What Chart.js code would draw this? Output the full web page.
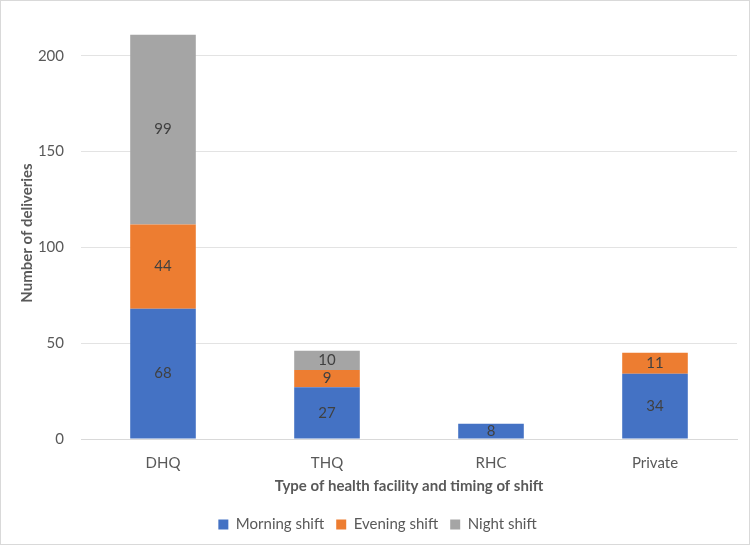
<!DOCTYPE html>
<html>
<head>
<meta charset="utf-8">
<script src="https://cdn.jsdelivr.net/npm/chart.js@4.4.1/dist/chart.umd.min.js"></script>
<style>
  html, body { margin: 0; padding: 0; background: #fff; }
  #wrap { position: relative; width: 748px; height: 543px; border: 1px solid #d9d9d9; }
</style>
</head>
<body>
<div id="wrap"><canvas id="chart"></canvas></div>
<script>
// data
const categories = ["DHQ", "THQ", "RHC", "Private"];
const morning = [68, 27, 8, 34];
const evening = [44, 9, 0, 11];
const night   = [99, 10, 0, 0];
const yTicks  = [0, 50, 100, 150, 200];

const FONT = "Lato, 'Open Sans', sans-serif";
const TXT = "#595959";

// labels centred in each segment, zeros skipped
const segLabels = {
  id: "segLabels",
  afterDatasetsDraw(chart) {
    const ctx = chart.ctx;
    ctx.save();
    ctx.font = "15px " + FONT;
    ctx.fillStyle = "#404040";
    ctx.textAlign = "center";
    ctx.textBaseline = "middle";
    chart.data.datasets.forEach((ds, i) => {
      chart.getDatasetMeta(i).data.forEach((bar, j) => {
        const v = ds.data[j];
        if (!v) return;
        const { x, y, base } = bar.getProps(["x", "y", "base"], true);
        ctx.fillText(String(v), x, (y + base) / 2);
      });
    });
    ctx.restore();
  }
};

new Chart(document.getElementById("chart"), {
  type: "bar",
  data: {
    labels: categories,
    datasets: [
      { label: "Morning shift", data: morning, backgroundColor: "#4472c4" },
      { label: "Evening shift", data: evening, backgroundColor: "#ed7d31" },
      { label: "Night shift",   data: night,   backgroundColor: "#a5a5a5" },
    ]
  },
  options: {
    responsive: true,
    maintainAspectRatio: false,
    animation: false,
    datasets: { bar: { categoryPercentage: 1, barPercentage: 0.4 } },
    layout: { padding: { left: 17, right: 12, top: 17, bottom: 2 } },
    plugins: {
      tooltip: { enabled: false },
      legend: {
        position: "bottom",
        labels: {
          color: TXT, boxWidth: 10, boxHeight: 10, padding: 12,
          font: { family: FONT, size: 15 }
        }
      }
    },
    scales: {
      x: {
        stacked: true,
        afterFit: (axis) => { axis.height = 66; },
        grid: { display: false, drawTicks: false },
        border: { color: "#d9d9d9" },
        ticks: { color: TXT, font: { family: FONT, size: 15, lineHeight: 1 }, padding: 17 },
        title: {
          display: true, text: "Type of health facility and timing of shift",
          color: TXT, font: { family: FONT, size: 15, weight: "bold" }, padding: { top: 2, bottom: 10 }
        }
      },
      y: {
        stacked: true,
        min: 0, max: 215,
        afterBuildTicks: (axis) => { axis.ticks = yTicks.map(v => ({ value: v })); },
        afterFit: (axis) => { axis.width = 63; },
        grid: { color: "#e3e3e3", drawTicks: false },
        border: { display: false },
        ticks: { color: TXT, font: { family: FONT, size: 15 }, padding: 17 },
        title: {
          display: true, text: "Number of deliveries",
          color: TXT, font: { family: FONT, size: 15, weight: "bold" }, padding: { top: 0, bottom: 2 }
        }
      }
    }
  },
  plugins: [segLabels]
});
</script>
</body>
</html>
